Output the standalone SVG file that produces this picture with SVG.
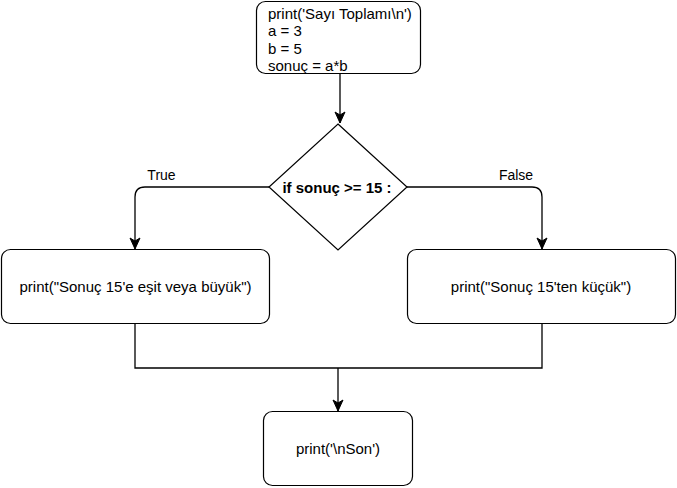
<svg xmlns="http://www.w3.org/2000/svg" width="677" height="488" viewBox="0 0 677 488">
<defs>
<style>
.box{fill:#fff;stroke:#000;stroke-width:1.2}
.t{font-family:"Liberation Sans",Arial,sans-serif;font-size:15px;fill:#000}
.l{font-family:"Liberation Sans",Arial,sans-serif;font-size:14px;fill:#000;text-anchor:middle}
.c{text-anchor:middle}
.b{font-weight:bold}
.ln{fill:none;stroke:#000;stroke-width:1.3}
</style>
<marker id="ah" markerWidth="14" markerHeight="12" refX="12" refY="6" orient="auto" markerUnits="userSpaceOnUse">
<path d="M1,1 L12,6 L1,11 L4,6 Z" fill="#000" stroke="#000" stroke-width="1"/>
</marker>
</defs>
<rect width="677" height="488" fill="#fff"/>
<g id="connectors">
<path class="ln" d="M340,74 V123" marker-end="url(#ah)"/>
<path class="ln" d="M269,187 H145 Q135,187 135,197 V249" marker-end="url(#ah)"/>
<path class="ln" d="M407,187 H532 Q542,187 542,197 V249" marker-end="url(#ah)"/>
<path class="ln" d="M135,324 V368 H542 V324"/>
<path class="ln" d="M338,368 V411" marker-end="url(#ah)"/>
<text class="l" x="161.5" y="180">True</text>
<text class="l" x="516" y="180">False</text>
</g>
<g id="start">
<rect class="box" x="256.5" y="1.5" width="164" height="72" rx="9"/>
<text class="t" x="268" y="18.5">print('Sayı Toplamı\n')</text>
<text class="t" x="268" y="36">a = 3</text>
<text class="t" x="268" y="53.5">b = 5</text>
<text class="t" x="268" y="70.5">sonuç = a*b</text>
</g>
<g id="decision">
<path class="box" d="M338,124 L407,187 L338,250 L269,187 Z"/>
<text class="t c b" x="337" y="192.5">if sonuç &gt;= 15 :</text>
</g>
<g id="true-box">
<rect class="box" x="1.5" y="249.5" width="268" height="74" rx="9"/>
<text class="t c" x="135.5" y="292">print("Sonuç 15'e eşit veya büyük")</text>
</g>
<g id="false-box">
<rect class="box" x="407.5" y="249.5" width="268" height="74" rx="9"/>
<text class="t c" x="541" y="292">print("Sonuç 15'ten küçük")</text>
</g>
<g id="end">
<rect class="box" x="263.5" y="411.5" width="149" height="74" rx="9"/>
<text class="t c" x="338" y="454">print('\nSon')</text>
</g>
</svg>
